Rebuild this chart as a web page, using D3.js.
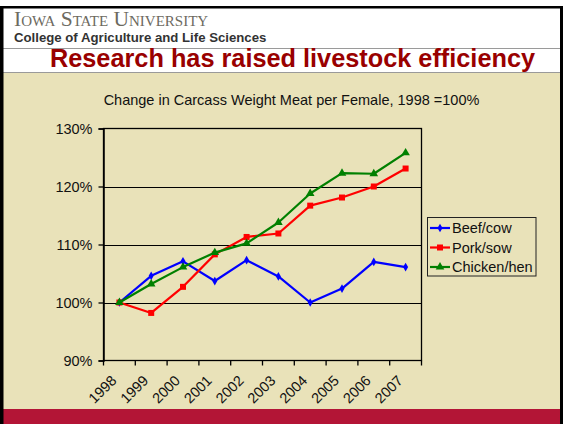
<!DOCTYPE html>
<html><head><meta charset="utf-8">
<script src="https://cdn.jsdelivr.net/npm/d3@7"></script>
<style>html,body{margin:0;padding:0;background:#fff;}svg{display:block;}</style>
</head><body>
<svg id="c" width="564" height="424"></svg>
<script>
const years = ["1998","1999","2000","2001","2002","2003","2004","2005","2006","2007"];
const beef =    [100, 104.6, 107.1, 103.7, 107.3, 104.5, 100.0, 102.4, 107.0, 106.1];
const pork =    [100,  98.2, 102.7, 108.3, 111.3, 111.9, 116.7, 118.1, 120.0, 123.1];
const chicken = [100, 103.2, 106.1, 108.6, 110.2, 113.8, 118.8, 122.3, 122.2, 125.8];
const seriesNames = ["Beef/cow","Pork/sow","Chicken/hen"];
const yTicks = [90, 100, 110, 120, 130];

const series = [
  {name: seriesNames[0], values: beef, color: "#0000FF", marker: "diamond"},
  {name: seriesNames[1], values: pork, color: "#FF0000", marker: "square"},
  {name: seriesNames[2], values: chicken, color: "#008000", marker: "triangle"}
];

const svg = d3.select("#c");
// page background & frame
svg.append("rect").attr("x",0).attr("y",0).attr("width",564).attr("height",424).attr("fill","#fff");
svg.append("rect").attr("x",3).attr("y",73).attr("width",558).attr("height",336).attr("fill","#E9E2B9");
svg.append("rect").attr("x",3).attr("y",409).attr("width",558).attr("height",15).attr("fill","#B31536");
svg.append("line").attr("x1",3).attr("x2",561).attr("y1",48.5).attr("y2",48.5).attr("stroke","#9a9a9a").attr("stroke-width",1);
svg.append("line").attr("x1",3).attr("x2",561).attr("y1",72.5).attr("y2",72.5).attr("stroke","#9a9a9a").attr("stroke-width",1);
// black frame
svg.append("rect").attr("x",0).attr("y",6).attr("width",3.5).attr("height",418).attr("fill","#000");
svg.append("rect").attr("x",560).attr("y",6).attr("width",3).attr("height",418).attr("fill","#000");
svg.append("rect").attr("x",0).attr("y",6).attr("width",563).attr("height",2.5).attr("fill","#000");

// header texts
svg.append("text").attr("x",14).attr("y",26)
  .style("font-family","'Liberation Serif','DejaVu Serif',serif").style("font-size","21.5px")
  .style("font-variant","small-caps").attr("fill","#6d6a5f").text("Iowa State University");
svg.append("text").attr("x",14).attr("y",42)
  .style("font-family","'Liberation Sans',Arial,sans-serif").style("font-size","13.2px").style("font-weight","bold")
  .attr("fill","#333").text("College of Agriculture and Life Sciences");
svg.append("text").attr("x",292.5).attr("y",67).attr("text-anchor","middle")
  .style("font-family","'Liberation Sans',Arial,sans-serif").style("font-size","25.3px").style("font-weight","bold")
  .attr("fill","#990000").text("Research has raised livestock efficiency");

// chart subtitle
svg.append("text").attr("x",291.5).attr("y",105).attr("text-anchor","middle")
  .style("font-family","'Liberation Sans',Arial,sans-serif").style("font-size","14.5px")
  .attr("fill","#111").text("Change in Carcass Weight Meat per Female, 1998 =100%");

const L = 103.5, R = 421.5, T = 128.5, B = 360.5;
const x = d3.scaleBand().domain(years).range([L, R]);
const y = d3.scaleLinear().domain([90, 130]).range([B, T]);
const font = "'Liberation Sans',Arial,sans-serif";

// gridlines
svg.append("g").selectAll("line").data(yTicks.slice(1, -1)).join("line")
  .attr("x1", L).attr("x2", R).attr("y1", d => Math.round(y(d)) + 0.5).attr("y2", d => Math.round(y(d)) + 0.5)
  .attr("stroke", "#000").attr("stroke-width", 1);
// plot frame
svg.append("rect").attr("x", L).attr("y", T).attr("width", R - L).attr("height", B - T)
  .attr("fill", "none").attr("stroke", "#000").attr("stroke-width", 1.3);

// y axis
const yAxis = d3.axisLeft(y).tickValues(yTicks).tickSize(5).tickPadding(6).tickFormat(d => d + "%");
const gy = svg.append("g").attr("transform", `translate(${L},0)`).call(yAxis);
gy.select(".domain").attr("stroke", "#000").attr("stroke-width", 1.5);
gy.selectAll(".tick line").attr("stroke", "#000").attr("stroke-width", 1.3);
gy.selectAll("text").style("font-family", font).style("font-size", "14.5px").attr("fill", "#111");

// x axis ticks at band boundaries
const bounds = years.map(d => x(d)).concat([R]);
svg.append("g").selectAll("line").data(bounds).join("line")
  .attr("x1", d => d).attr("x2", d => d).attr("y1", B).attr("y2", B + 5)
  .attr("stroke", "#000").attr("stroke-width", 1.3);
svg.append("g").selectAll("text").data(years).join("text")
  .attr("transform", d => `translate(${x(d) + x.bandwidth()/2 - 2},${B + 21}) rotate(-45)`)
  .attr("text-anchor", "end")
  .style("font-family", font).style("font-size", "14.5px").attr("fill", "#111").text(d => d);

// lines
const line = d3.line().x((d, i) => x(years[i]) + x.bandwidth()/2).y(d => y(d));
const markerPath = {
  diamond: d3.symbol().type(d3.symbolDiamond).size(22)(),
  square: d3.symbol().type(d3.symbolSquare).size(36)(),
  triangle: d3.symbol().type(d3.symbolTriangle).size(32)()
};
series.forEach(s => {
  svg.append("path").datum(s.values).attr("d", line).attr("fill", "none")
    .attr("stroke", s.color).attr("stroke-width", 2.2).attr("stroke-linejoin", "round");
  svg.append("g").selectAll("path").data(s.values).join("path")
    .attr("transform", (d, i) => `translate(${x(years[i]) + x.bandwidth()/2},${y(d)})`)
    .attr("d", markerPath[s.marker]).attr("fill", s.color);
});

// legend
const lg = svg.append("g");
lg.append("rect").attr("x", 427.5).attr("y", 217.5).attr("width", 108.5).attr("height", 58.5)
  .attr("fill", "#E9E2B9").attr("stroke", "#222").attr("stroke-width", 1);
series.forEach((s, i) => {
  const yy = 228 + i * 19.5;
  lg.append("line").attr("x1", 430).attr("x2", 450).attr("y1", yy).attr("y2", yy)
    .attr("stroke", s.color).attr("stroke-width", 2.2);
  lg.append("path").attr("transform", `translate(440,${yy})`).attr("d", markerPath[s.marker]).attr("fill", s.color);
  lg.append("text").attr("x", 452).attr("y", yy + 5)
    .style("font-family", font).style("font-size", "14.5px").attr("fill", "#111").text(s.name);
});
</script>
</body></html>
